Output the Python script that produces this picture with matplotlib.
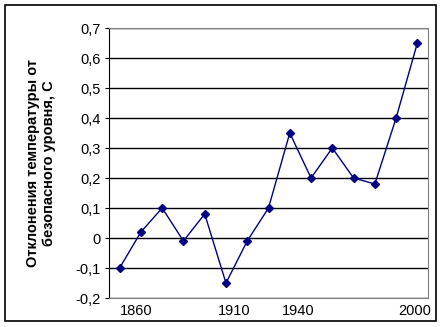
import matplotlib.pyplot as plt
import numpy as np

# отклонения температуры по десятилетиям (15 точек)
otkl = [-0.1, 0.02, 0.1, -0.01, 0.08, -0.15, -0.01, 0.1, 0.35, 0.2, 0.3, 0.2, 0.18, 0.4, 0.65]
podpisi = ['1860', '1910', '1940', '2000']
pozicii = [0.77, 5.38, 8.39, 13.89]
y_metki = [-0.2, -0.1, 0, 0.1, 0.2, 0.3, 0.4, 0.5, 0.6, 0.7]
y_tekst = ['-0,2', '-0,1', '0', '0,1', '0,2', '0,3', '0,4', '0,5', '0,6', '0,7']

plt.rcParams['font.family'] = ['Liberation Sans', 'DejaVu Sans']

fig = plt.figure(figsize=(4.44, 3.27), dpi=100)
ax = fig.add_axes([109 / 444, 1 - 298 / 327, 319 / 444, 270 / 327])

x = np.arange(len(otkl))
ax.plot(x, otkl, color='#000080', lw=1, marker='D', ms=4, mfc='#000080', mec='#000080')

ax.set_xlim(-0.5, len(otkl) - 0.5)
ax.set_ylim(-0.2, 0.7)
ax.set_yticks(y_metki)
ax.set_yticklabels(y_tekst, fontsize=10.5)
ax.set_xticks(pozicii)
ax.set_xticklabels(podpisi, fontsize=10.5)
ax.tick_params(axis='x', length=0, pad=4)
ax.tick_params(axis='y', length=3, width=0.8, pad=3)
ax.grid(axis='y', color='black', lw=1)
ax.set_axisbelow(True)

for s in ['top', 'right', 'bottom']:
    ax.spines[s].set_color('#808080')
ax.spines['left'].set_color('black')

ax.set_ylabel('Отклонения температуры от\nбезопасного уровня, С', fontsize=10.5,
              fontweight='bold', labelpad=14, linespacing=1.2)

# рамка вокруг всей диаграммы
fig.patches.append(plt.Rectangle((5 / 444, 6 / 327), 431 / 444, 316 / 327, transform=fig.transFigure,
                                 fill=False, edgecolor='black', lw=1.2))

fig.savefig('out.png', dpi=100)
